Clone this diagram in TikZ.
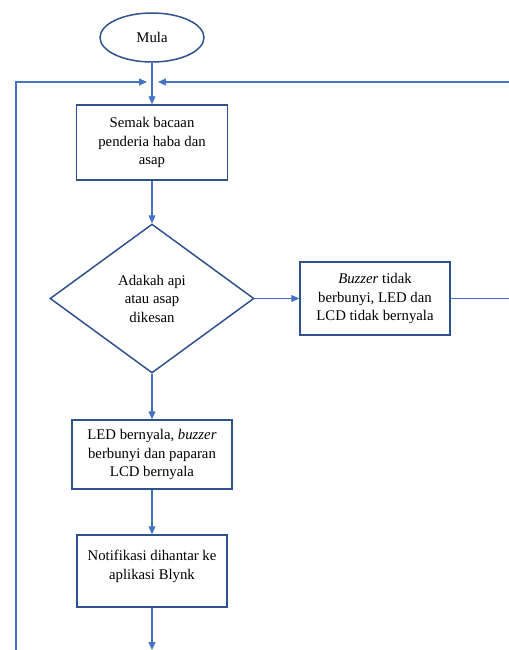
\documentclass[tikz,border=0pt]{standalone}
\usepackage{fontspec}
\setmainfont{Liberation Serif}
\usetikzlibrary{shapes.geometric,arrows.meta}
\definecolor{garisbiru}{HTML}{4472C4}
\definecolor{tepibiru}{HTML}{2F528F}
\begin{document}
\begin{tikzpicture}[x=0.02cm, y=-0.02cm,
  every node/.style={font=\fontsize{8.4pt}{10.5pt}\selectfont, align=center},
  kotak/.style={draw=tepibiru, line width=0.85pt, inner sep=2pt},
  panah/.style={draw=garisbiru, line width=0.6pt, -{Triangle[length=1.6mm,width=1.4mm]}},
  garis/.style={draw=garisbiru, line width=0.6pt}]
  \useasboundingbox (0,0) rectangle (509,650);
  % nodes
  \node[kotak, ellipse, minimum width=2.08cm, minimum height=0.98cm] (mula) at (152,37.5) {Mula};
  \node[kotak, minimum width=3.02cm, minimum height=1.50cm] (semak) at (152,142.5) {Semak bacaan\\penderia haba dan\\asap};
  \node[kotak, diamond, inner sep=0pt, minimum width=4.08cm, minimum height=2.98cm] (soalan) at (152,298.5) {Adakah api\\atau asap\\dikesan};
  \node[kotak, minimum width=3.00cm, minimum height=1.46cm] (tidak) at (375,298.5) {\textit{Buzzer} tidak\\berbunyi, LED dan\\LCD tidak bernyala};
  \node[kotak, minimum width=3.20cm, minimum height=1.38cm] (bernyala) at (152,454.5) {LED bernyala, \textit{buzzer}\\berbunyi dan paparan\\LCD bernyala};
  \node[kotak, minimum width=3.00cm, minimum height=1.44cm, text depth=7pt] (notifikasi) at (152,571) {Notifikasi dihantar ke\\aplikasi Blynk};
  % loop points
  \coordinate (kiriBawah) at (16,650);
  \coordinate (kiriAtas) at (16,82);
  \coordinate (masukKiri) at (147,82);
  \coordinate (kananAtas) at (509,82);
  \coordinate (masukKanan) at (158,82);
  \coordinate (kananTepi) at (509,298.5);
  \coordinate (bawah) at (152,650);
  % connectors
  \draw[panah] (mula) -- (semak);
  \draw[panah] (semak) -- (soalan);
  \draw[panah] (soalan) -- (tidak);
  \draw[panah] (soalan) -- (bernyala);
  \draw[panah] (bernyala) -- (notifikasi);
  \draw[panah] (notifikasi) -- (bawah);
  \draw[garis] (tidak) -- (kananTepi);
  \draw[panah] (kananAtas) -- (masukKanan);
  \draw[panah] (kiriBawah) -- (kiriAtas) -- (masukKiri);
\end{tikzpicture}
\end{document}
